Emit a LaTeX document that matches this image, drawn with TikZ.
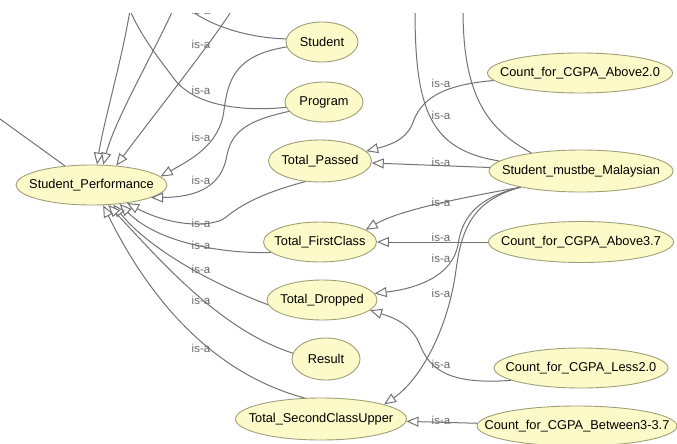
\documentclass[tikz,border=0pt]{standalone}
\usepackage{fontspec}
\setmainfont{Liberation Sans}
\usetikzlibrary{shapes.geometric,arrows.meta}
\definecolor{nodefill}{RGB}{252,250,200}
\definecolor{nodeborder}{RGB}{160,160,120}
\definecolor{edgecol}{RGB}{115,115,115}
\definecolor{lblcol}{RGB}{105,105,105}
\newcommand{\mkclap}[1]{\makebox[0pt][c]{#1}}
\begin{document}
\begin{tikzpicture}[x=1pt,y=-1pt,
  cls/.style={ellipse, draw=nodeborder, fill=nodefill, line width=0.9pt, inner sep=0pt, font=\fontsize{12.8}{14}\selectfont},
  isa/.style={draw=edgecol, line width=1pt, -{Triangle[length=12pt,width=10pt,fill=white]}},
  lineonly/.style={draw=edgecol, line width=1pt},
  lbl/.style={text=lblcol, font=\fontsize{11.5}{12}\selectfont, inner sep=0pt}]
\useasboundingbox[fill=white] (0,0) rectangle (677,444);
\clip (0,14) rectangle (677,444);
% nodes
\node[cls, minimum width=151pt, minimum height=40pt] (sp) at (91.5,185) {\mkclap{Student\_Performance}};
\node[cls, minimum width=72pt, minimum height=40pt] (st) at (322,42) {\mkclap{Student}};
\node[cls, minimum width=78pt, minimum height=40pt] (pr) at (324,102) {\mkclap{Program}};
\node[cls, minimum width=103pt, minimum height=42pt] (tp) at (320,161) {\mkclap{Total\_Passed}};
\node[cls, minimum width=113pt, minimum height=40pt] (tf) at (320,242) {\mkclap{Total\_FirstClass}};
\node[cls, minimum width=110pt, minimum height=40pt] (td) at (322,300) {\mkclap{Total\_Dropped}};
\node[cls, minimum width=68pt, minimum height=42pt] (rs) at (326,359) {\mkclap{Result}};
\node[cls, minimum width=171pt, minimum height=42pt] (tsu) at (321,419) {\mkclap{Total\_SecondClassUpper}};
\node[cls, minimum width=185pt, minimum height=40pt] (ca2) at (580,73) {\mkclap{Count\_for\_CGPA\_Above2.0}};
\node[cls, minimum width=184pt, minimum height=42pt] (sm) at (581,171) {\mkclap{Student\_mustbe\_Malaysian}};
\node[cls, minimum width=185pt, minimum height=41pt] (ca37) at (581,242) {\mkclap{Count\_for\_CGPA\_Above3.7}};
\node[cls, minimum width=174pt, minimum height=40pt] (cl2) at (581,368) {\mkclap{Count\_for\_CGPA\_Less2.0}};
\node[cls, minimum width=200pt, minimum height=40pt] (cb) at (577,426) {\mkclap{Count\_for\_CGPA\_Between3-3.7}};
% free ends
\coordinate (tA) at (130,10);
\coordinate (tB) at (173,10);
\coordinate (tC) at (232,10);
\coordinate (tS) at (190,10);
\coordinate (tL) at (0,119);
\coordinate (tR1) at (415,10);
\coordinate (tR2) at (463,10);
% left edges
\draw[isa] (tA) .. controls (122,60) and (104,120) .. (sp.75);
\draw[isa] (tB) .. controls (150,60) and (115,120) .. (sp.60);
\draw[isa] (tC) .. controls (212,42) and (150,120) .. (sp.38);
\draw[lineonly] (st.175) .. controls (250,38) and (213,27) .. (tS);
\draw[lineonly] (pr.188) .. controls (240,112) and (195,105) .. (175,80) .. controls (160,60) and (140,35) .. (tA);
\draw[lineonly] (tL) -- (sp);
\draw[isa] (st.188) .. controls (235,55) and (228,80) .. (224,110) .. controls (220,145) and (190,160) .. (sp.7);
\draw[isa] (pr.195) .. controls (250,120) and (232,130) .. (227,155) .. controls (222,185) and (200,197) .. (sp.-12);
\draw[isa] (tp.235) .. controls (265,192) and (240,205) .. (225,218) .. controls (210,228) and (170,226) .. (sp.-27);
\draw[isa] (tf.192) .. controls (230,254) and (160,245) .. (sp.-34);
\draw[isa] (td.185) .. controls (215,285) and (150,250) .. (sp.-42);
\draw[isa] (rs.170) .. controls (220,330) and (160,260) .. (sp.-50);
\draw[isa] (tsu.128) .. controls (200,370) and (140,280) .. (sp.-60);
% right edges
\draw[lineonly] (sm.173) .. controls (430,150) and (415,110) .. (tR1);
\draw[lineonly] (sm.160) .. controls (490,130) and (463,100) .. (tR2);
\draw[isa] (ca2.185) .. controls (440,85) and (420,100) .. (412,125) .. controls (405,140) and (390,145) .. (tp.12);
\draw[isa] (sm) -- (tp);
\draw[isa] (sm.195) .. controls (460,198) and (400,210) .. (tf.15);
\draw[isa] (ca37) -- (tf);
\draw[isa] (sm.195) .. controls (480,197) and (462,215) .. (458,245) .. controls (452,275) and (420,288) .. (td.7);
\draw[isa] (sm.195) .. controls (475,200) and (462,225) .. (456,270) .. controls (448,330) and (420,380) .. (tsu.13);
\draw[isa] (cl2.190) .. controls (450,385) and (430,370) .. (420,345) .. controls (412,325) and (395,318) .. (td.-12);
\draw[isa] (cb) -- (tsu);
% labels
\foreach \y [count=\i] in {10,44,90,137,180,223,245,269,300,348}
  \node[lbl] (ll\i) at (201,\y) {is-a};
\foreach \y [count=\i] in {83,115,162,202,237,258,293,364,420}
  \node[lbl] (lr\i) at (441,\y) {is-a};
\end{tikzpicture}
\end{document}
